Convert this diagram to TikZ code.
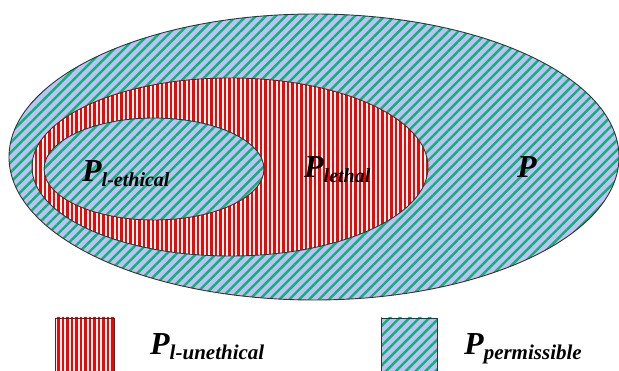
\documentclass[tikz,border=0pt]{standalone}
\usepackage{fontspec}
\setmainfont{Liberation Serif}
\usetikzlibrary{patterns.meta}
\definecolor{stripegreen}{RGB}{10,180,115}
\definecolor{lavender}{RGB}{192,192,248}
\definecolor{stripered}{RGB}{255,0,0}
\newcommand{\bigP}{\fontsize{32}{32}\selectfont P}
\newcommand{\subtxt}[2][20]{\raisebox{-5pt}{\fontsize{#1}{#1}\selectfont #2}}
\tikzset{
  greenfill/.style={preaction={fill=lavender},
    pattern={Lines[angle=45,distance=7pt,line width=2.4pt]},pattern color=stripegreen},
  redfill/.style={preaction={fill=white},
    pattern={Lines[angle=90,distance=4.5pt,line width=2.6pt]},pattern color=stripered},
  rim/.style={draw=black!80,line width=0.9pt},
  lbl/.style={inner sep=0pt,anchor=base west,font=\bfseries\itshape}
}
\begin{document}
\begin{tikzpicture}[x=1pt,y=-1pt]
\useasboundingbox (0,0) rectangle (619,371);
\clip (0,0) rectangle (619,371);
% sets
\path[greenfill,rim] (314,157) ellipse [x radius=305,y radius=143];
\path[redfill,rim] (230,167) ellipse [x radius=198,y radius=89];
\path[greenfill,rim] (154,169) ellipse [x radius=110,y radius=51];
% labels
\node[lbl] (le) at (82,182) {\bigP\subtxt{l-ethical}};
\node[lbl] (leth) at (304,178) {\bigP\subtxt{lethal}};
\node[lbl] (p) at (517,178) {\bigP};
% legend
\path[redfill,rim] (55,318) rectangle (114,375);
\node[lbl] (lu) at (150,355) {\bigP\subtxt[21]{l-unethical}};
\path[greenfill,rim] (381,318) rectangle (437,375);
\node[lbl] (pp) at (464,355) {\bigP\subtxt[21]{permissible}};
\end{tikzpicture}
\end{document}
